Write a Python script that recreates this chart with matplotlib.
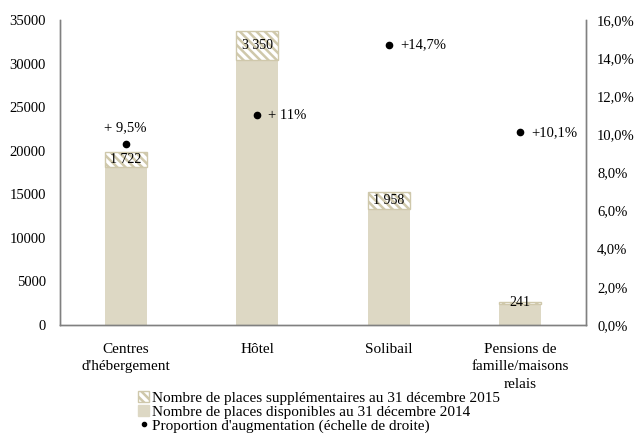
import numpy as np
import matplotlib.pyplot as plt
from matplotlib.patches import Patch
from matplotlib.lines import Line2D

plt.rcParams['font.family'] = ['Liberation Serif', 'DejaVu Serif']
plt.rcParams['hatch.color'] = '#e4dfcf'
plt.rcParams['hatch.linewidth'] = 1.8

categories = ['Centres\nd\'hébergement', 'Hôtel', 'Solibail', 'Pensions de\nfamille/maisons\nrelais']
places_2014 = [18100, 30400, 13300, 2400]
places_extra = [1722, 3350, 1958, 241]
extra_labels = ['1 722', '3 350', '1 958', '241']
increase_pct = [9.5, 11.0, 14.7, 10.1]
pct_labels = ['+ 9,5%', '+ 11%', '+14,7%', '+10,1%']

base_col = '#ddd8c4'
edge_col = '#cfc8ab'
spine_col = '#808080'

fig = plt.figure(figsize=(6.37, 4.36), dpi=100)
ax = fig.add_axes([0.094, 0.255, 0.826, 0.699])
ax2 = ax.twinx()

x = np.arange(len(categories))
w = 0.32
ax.bar(x, places_2014, width=w, color=base_col, zorder=2)
ax.bar(x, places_extra, width=w, bottom=places_2014, color='white',
       edgecolor=edge_col, linewidth=1.0, hatch='\\\\\\\\', zorder=2)
for i in range(len(x)):
    ax.text(x[i], places_2014[i] + places_extra[i] / 2, extra_labels[i],
            ha='center', va='center', fontsize=10, zorder=3)

ax.set_xlim(-0.5, 3.5)
ax.set_ylim(0, 35000)
ax.set_yticks(np.arange(0, 35001, 5000))
ax.set_xticks(x)
ax.set_xticklabels(categories, fontsize=11, linespacing=1.45)
ax.tick_params(axis='x', length=0, pad=13)
ax.tick_params(axis='y', length=0, pad=10, labelsize=10.5)

ax2.plot(x, increase_pct, 'o', color='black', markersize=4.5, zorder=4)
ax2.set_ylim(0, 16)
ax2.set_yticks(np.arange(0, 16.1, 2))
ax2.set_yticklabels([f'{v:.1f}%'.replace('.', ',') for v in np.arange(0, 16.1, 2)])
ax2.tick_params(axis='y', length=0, pad=8, labelsize=10.5)
for i in range(len(x)):
    if i == 0:
        ax2.annotate(pct_labels[i], (x[i], increase_pct[i]), xytext=(0, 7),
                     textcoords='offset points', ha='center', va='bottom', fontsize=10.5)
    else:
        ax2.annotate(pct_labels[i], (x[i], increase_pct[i]), xytext=(8, 0),
                     textcoords='offset points', ha='left', va='center', fontsize=10.5)

for a in (ax, ax2):
    a.spines['top'].set_visible(False)
    for s in ('left', 'right', 'bottom'):
        a.spines[s].set_color(spine_col)
        a.spines[s].set_linewidth(1.0)

handles = [
    Patch(facecolor='white', edgecolor=edge_col, hatch='\\\\\\\\'),
    Patch(facecolor=base_col, edgecolor=base_col),
    Line2D([], [], marker='o', color='black', linestyle='none', markersize=3),
]
labels = ['Nombre de places supplémentaires au 31 décembre 2015',
          'Nombre de places disponibles au 31 décembre 2014',
          'Proportion d\'augmentation (échelle de droite)']
fig.legend(handles, labels, loc='lower left', bbox_to_anchor=(0.205, -0.01),
           frameon=False, fontsize=11, handlelength=0.7, handleheight=0.7,
           handletextpad=0.2, labelspacing=0.0, borderaxespad=0.1)

fig.savefig('out.png', dpi=100)
